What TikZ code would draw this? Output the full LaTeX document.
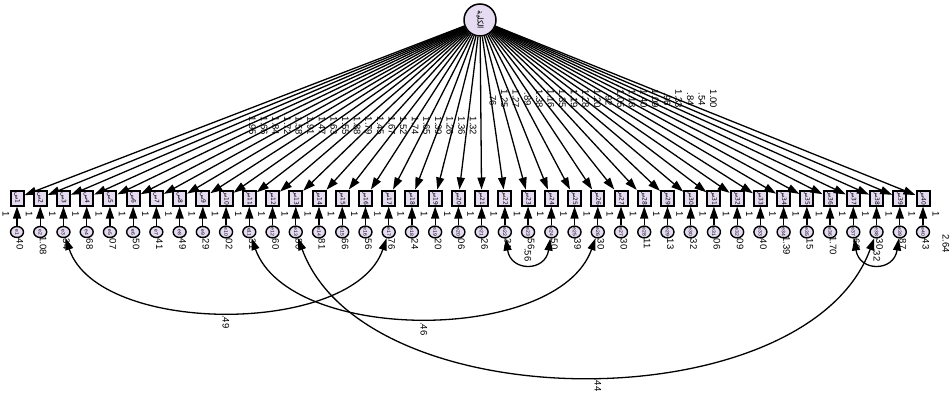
\documentclass[tikz,border=0pt]{standalone}
\usepackage{graphicx}
\usepackage{fontspec}
\setmainfont{Liberation Sans}
\newfontfamily\arabicfont[Script=Arabic]{DejaVu Sans}
\TeXXeTstate=1
\usetikzlibrary{arrows.meta,shapes.geometric}
\definecolor{lav}{RGB}{230,220,242}
\tikzset{
  latent/.style={circle, draw, line width=1.5pt, fill=lav, minimum size=32pt, inner sep=0pt},
  obs/.style={rectangle, draw, line width=2pt, fill=lav, minimum width=13pt, minimum height=15pt, inner sep=0pt},
  errc/.style={ellipse, draw, line width=1.4pt, fill=lav, minimum width=13pt, minimum height=11pt, inner sep=0pt},
  ldg/.style={-{Triangle[length=12pt,width=8pt]}, line width=1.3pt},
  cov/.style={{Triangle[length=12pt,width=8pt]}-{Triangle[length=12pt,width=8pt]}, line width=1.3pt},
  lbl/.style={font=\fontsize{9.5}{9.5}\selectfont, rotate=-90, inner sep=0pt},
}
\begin{document}
\begin{tikzpicture}[x=1pt,y=-1pt]
\useasboundingbox (0,0) rectangle (952,396);
\node[latent] (L) at (480,20) {\rotatebox{-90}{\fontsize{8}{8}\arabicfont\beginR الكلية\endR}};
\foreach \i/\ld/\ev in {1/1.95/.40,2/1.66/1.08,3/1.84/.34,4/1.72/.68,5/1.58/.07,6/1.91/.50,7/1.47/.41,8/1.63/.49,9/1.55/.29,10/1.88/.02,
 11/1.79/.31,12/1.45/.60,13/1.67/.80,14/1.52/.81,15/1.74/.66,16/1.65/.56,17/1.39/.76,18/1.26/.24,19/1.36/.20,20/1.32/.06,
 21/.76/.26,22/1.25/.31,23/1.27/.56,24/.89/.50,25/1.38/.39,26/1.16/.30,27/1.35/.30,28/1.19/.11,29/1.28/.13,30/1.20/.32,
 31/.92/.06,32/1.05/.09,33/1.18/.40,34/1.40/1.39,35/1.09/.15,36/.96/1.70,37/1.33/.60,38/.84/.30,39/.54/.87,40/1.00/.43}{
  \pgfmathsetmacro\xx{17+(\i-1)*23.2308}
  \pgfmathsetmacro\mx{480+(\xx-480)/2}
  \node[obs] (b\i) at (\xx,198) {\rotatebox{-90}{\fontsize{6}{6}\arabicfont\beginR س\endR\i}};
  \node[errc] (e\i) at (\xx,232) {\rotatebox{-90}{\fontsize{5}{5}\selectfont e\i}};
  \draw[ldg] (e\i) -- (b\i);
  \draw[ldg] (L) -- (b\i);
  \node[lbl] (one\i) at (\xx-11,214) {1};
  \node[lbl, anchor=west] (v\i) at (\xx+3,236) {\ev};
  \ifnum\i<21
    \node[lbl] (w\i) at (\mx+4,126) {\ld};
  \else
    \node[lbl] (w\i) at (\mx+12,99) {\ld};
  \fi
}
\draw[cov] (e3) .. controls +(35,104) and +(-35,104) .. (e17);
\draw[cov] (e11) .. controls +(40,112) and +(-40,112) .. (e26);
\draw[cov] (e13) .. controls +(70,190) and +(-70,190) .. (e38);
\draw[cov] (e22) .. controls +(6,40) and +(-6,40) .. (e24);
\draw[cov] (e37) .. controls +(6,40) and +(-6,40) .. (e39);
\node[lbl, anchor=west] (c1) at (226,315) {.49};
\node[lbl, anchor=west] (c2) at (424,322) {.46};
\node[lbl, anchor=west] (c3) at (598,378) {.44};
\node[lbl, anchor=west] (c4) at (528,248) {.56};
\node[lbl, anchor=west] (c5) at (877,248) {.32};
\node[lbl] (x1) at (936,214) {1};
\node[lbl, anchor=west] (x2) at (946,234) {2.64};
\end{tikzpicture}
\end{document}
